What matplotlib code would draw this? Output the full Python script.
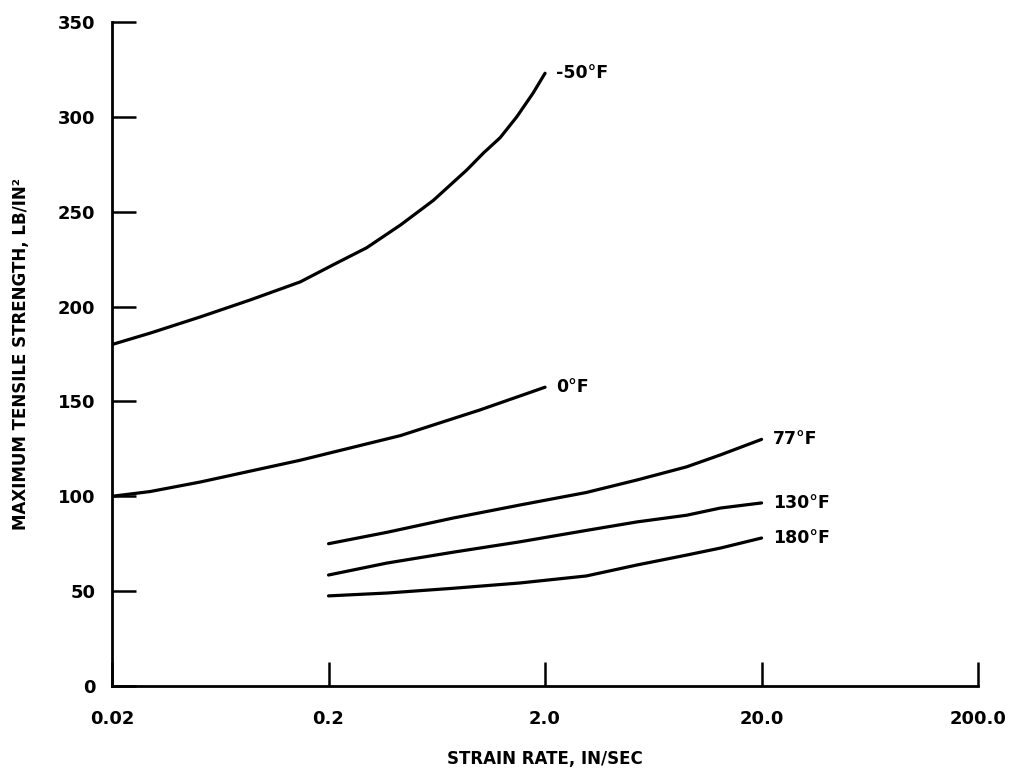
import matplotlib.pyplot as plt

# values (strain rate in/sec, strength lb/in^2)
x_m50 = [0.02, 0.03, 0.051, 0.087, 0.148, 0.21, 0.30, 0.43, 0.61, 0.87, 1.04, 1.24, 1.48, 1.76, 2.0]
y_m50 = [180, 186, 194.5, 203.5, 213, 222, 231, 243, 256, 272, 281, 289, 300, 312.5, 323]

x_0 = [0.02, 0.03, 0.051, 0.148, 0.43, 1.0, 2.0]
y_0 = [100, 102.5, 107.5, 119, 132, 145.5, 157.5]

x_hot = [0.2, 0.372, 0.75, 1.53, 3.1, 5.32, 9.0, 12.9, 20.0]
y_77 = [75, 81, 88.5, 95.4, 102, 108.6, 115.5, 121.8, 130]
y_130 = [58.5, 64.8, 70.5, 76, 82, 86.5, 90, 93.8, 96.5]
y_180 = [47.5, 49, 51.5, 54.3, 58, 63.8, 69, 72.7, 78]

labels = ['-50°F', '0°F', '77°F', '130°F', '180°F']
xticks = [0.02, 0.2, 2.0, 20.0, 200.0]
xticklabels = ['0.02', '0.2', '2.0', '20.0', '200.0']
yticks = [0, 50, 100, 150, 200, 250, 300, 350]

plt.rcParams['font.family'] = 'DejaVu Sans'
plt.rcParams['font.weight'] = 'bold'

fig = plt.figure(figsize=(10.21, 7.72), dpi=100)
ax = fig.add_axes([0.1097, 0.1114, 0.958 - 0.1097, 0.9715 - 0.1114])

series = [(x_m50, y_m50), (x_0, y_0), (x_hot, y_77), (x_hot, y_130), (x_hot, y_180)]
for (xs, ys), lab in zip(series, labels):
    ax.plot(xs, ys, color='black', lw=2.3, solid_capstyle='round', solid_joinstyle='round')
    ax.annotate(lab, (xs[-1], ys[-1]), xytext=(8, 0), textcoords='offset points',
                ha='left', va='center', fontsize=12.5, fontweight='bold')

ax.set_xscale('log')
ax.set_xlim(0.02, 200)
ax.set_ylim(0, 350)
ax.set_xticks(xticks)
ax.set_xticklabels(xticklabels)
ax.minorticks_off()
ax.set_yticks(yticks)

ax.spines['top'].set_visible(False)
ax.spines['right'].set_visible(False)
ax.spines['left'].set_linewidth(2)
ax.spines['bottom'].set_linewidth(2)
ax.tick_params(axis='both', direction='in', length=17, width=1.8, labelsize=13)
ax.tick_params(axis='y', pad=12)
ax.tick_params(axis='x', pad=17)

ax.set_xlabel('STRAIN RATE, IN/SEC', fontsize=12, fontweight='bold', labelpad=16)
ax.set_ylabel('MAXIMUM TENSILE STRENGTH, LB/IN²', fontsize=12, fontweight='bold', labelpad=20)

fig.savefig('out.png', dpi=100)
